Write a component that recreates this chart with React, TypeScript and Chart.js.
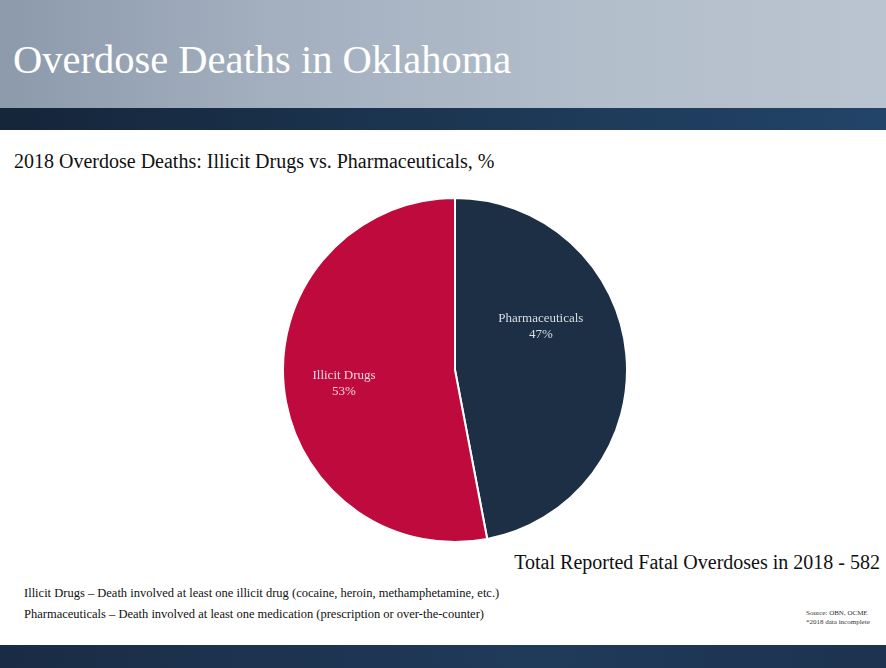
import React, { useEffect, useRef } from "react";
import { Chart, registerables } from "chart.js";

Chart.register(...registerables);

const categories = ["Pharmaceuticals", "Illicit Drugs"];
const percentages = [47, 53];
const sliceColors = ["#1C2F45", "#BE0A3C"];
const labelColors = ["#D9DEE4", "#F4D6DE"];
const labelAngleShiftDeg = [-21.6, -1.6];
const labelRadiusFrac = [0.56, 0.65];

const TITLE = "Overdose Deaths in Oklahoma";
const SUBTITLE = "2018 Overdose Deaths: Illicit Drugs vs. Pharmaceuticals, %";
const TOTAL_TEXT = "Total Reported Fatal Overdoses in 2018 - 582";
const NOTE_1 = "Illicit Drugs – Death involved at least one illicit drug (cocaine, heroin, methamphetamine, etc.)";
const NOTE_2 = "Pharmaceuticals – Death involved at least one medication (prescription or over-the-counter)";
const SOURCE_1 = "Source: OBN, OCME";
const SOURCE_2 = "*2018 data incomplete";

const SERIF = "'Liberation Serif', 'Times New Roman', serif";

const sliceLabelPlugin = {
  id: "sliceLabels",
  afterDatasetsDraw(chart: any) {
    const meta = chart.getDatasetMeta(0);
    const ctx = chart.ctx;
    ctx.save();
    ctx.font = `13px ${SERIF}`;
    ctx.textAlign = "center";
    ctx.textBaseline = "middle";
    meta.data.forEach((arc: any, i: number) => {
      const p = arc.getProps(["x", "y", "startAngle", "endAngle", "outerRadius"], true);
      const mid = (p.startAngle + p.endAngle) / 2 + (labelAngleShiftDeg[i] * Math.PI) / 180;
      const r = p.outerRadius * labelRadiusFrac[i];
      const cx = p.x + Math.cos(mid) * r;
      const cy = p.y + Math.sin(mid) * r;
      ctx.fillStyle = labelColors[i];
      ctx.fillText(categories[i], cx, cy - 8);
      ctx.fillText(`${percentages[i]}%`, cx, cy + 8);
    });
    ctx.restore();
  },
};

const textBase: React.CSSProperties = {
  position: "absolute",
  whiteSpace: "nowrap",
  color: "#111111",
};

export default function App() {
  const canvasRef = useRef<HTMLCanvasElement | null>(null);

  useEffect(() => {
    if (!canvasRef.current) return;
    const chart = new Chart(canvasRef.current, {
      type: "pie",
      data: {
        labels: categories,
        datasets: [
          {
            data: percentages,
            backgroundColor: sliceColors,
            borderColor: "#FFFFFF",
            borderWidth: 2,
          },
        ],
      },
      options: {
        animation: false,
        responsive: false,
        maintainAspectRatio: false,
        layout: { padding: 0 },
        plugins: {
          legend: { display: false },
          tooltip: { enabled: false },
          title: { display: false },
        },
      },
      plugins: [sliceLabelPlugin],
    });
    return () => chart.destroy();
  }, []);

  return (
    <div
      style={{
        position: "fixed",
        left: 0,
        top: 0,
        width: 886,
        height: 668,
        background: "#FFFFFF",
        overflow: "hidden",
        fontFamily: SERIF,
      }}
    >
      <div
        style={{
          position: "absolute",
          left: 0,
          top: 0,
          width: 886,
          height: 108,
          background: "linear-gradient(90deg, #8D9AAB 0%, #A3AFBF 30%, #B4BFCC 70%, #BAC4D0 100%)",
        }}
      />
      <div
        style={{
          position: "absolute",
          left: 0,
          top: 108,
          width: 886,
          height: 22,
          background: "linear-gradient(90deg, #15253A 0%, #1C3652 50%, #224468 100%)",
        }}
      />
      <div style={{ ...textBase, left: 13, top: 36, fontSize: 40.5, color: "#FFFFFF", lineHeight: "48px" }}>
        {TITLE}
      </div>
      <div style={{ ...textBase, left: 14, top: 149, fontSize: 20, lineHeight: "24px" }}>{SUBTITLE}</div>
      <canvas
        ref={canvasRef}
        width={346}
        height={346}
        style={{ position: "absolute", left: 282, top: 197, width: 346, height: 346 }}
      />
      <div style={{ ...textBase, right: 6, top: 550, fontSize: 20, lineHeight: "24px" }}>{TOTAL_TEXT}</div>
      <div style={{ ...textBase, left: 24, top: 586, fontSize: 12.5, lineHeight: "14px" }}>{NOTE_1}</div>
      <div style={{ ...textBase, left: 24, top: 607, fontSize: 12.5, lineHeight: "14px" }}>{NOTE_2}</div>
      <div style={{ ...textBase, left: 806, top: 609, fontSize: 7, color: "#333333", lineHeight: "9px" }}>
        {SOURCE_1}
        <br />
        {SOURCE_2}
      </div>
      <div
        style={{
          position: "absolute",
          left: 0,
          top: 645,
          width: 886,
          height: 23,
          background: "linear-gradient(90deg, #1A2C45 0%, #203A5A 60%, #1D3350 100%)",
        }}
      />
    </div>
  );
}
